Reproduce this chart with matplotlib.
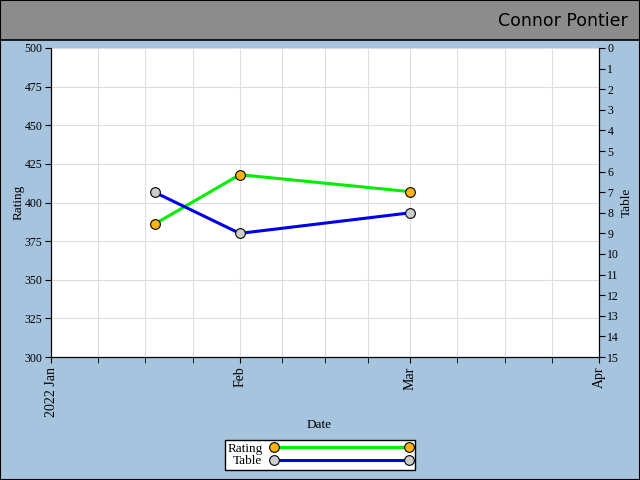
import datetime as dt
import matplotlib
matplotlib.use("Agg")
import matplotlib.pyplot as plt
import matplotlib.dates as mdates
from matplotlib.patches import Rectangle

# dados
dates = [dt.date(2022, 1, 18), dt.date(2022, 2, 1), dt.date(2022, 3, 1)]
rating = [386, 418, 407]
table = [7, 9, 8]

month_starts = [dt.date(2022, 1, 1), dt.date(2022, 2, 1), dt.date(2022, 3, 1), dt.date(2022, 4, 1)]
month_labels = ["2022 Jan", "Feb", "Mar", "Apr"]
player = "Connor Pontier"

bg = "#a6c4dd"
serif = ["Liberation Serif", "DejaVu Serif"]

fig = plt.figure(figsize=(6.4, 4.8), dpi=100, facecolor=bg)
fig.patches.append(Rectangle((0, 0), 1, 1, transform=fig.transFigure,
                             facecolor="none", edgecolor="black", lw=1.5, zorder=10))
fig.patches.append(Rectangle((0, 440 / 480), 1, 40 / 480, transform=fig.transFigure,
                             facecolor="#8c8c8c", edgecolor="black", lw=1.2, zorder=5))
fig.text(628 / 640, 459 / 480, player, ha="right", va="center", fontsize=12.5,
         family="DejaVu Sans", color="black", zorder=11)

ax = fig.add_axes([51 / 640, 123 / 480, 548 / 640, 309 / 480])
ax.set_facecolor("white")

# ticks menores: cada mes dividido em quartos
minor = []
for a, b in zip(month_starts[:-1], month_starts[1:]):
    n = (b - a).days
    for k in range(1, 4):
        minor.append(mdates.date2num(a) + n * k / 4.0)

ax.set_xlim(mdates.date2num(month_starts[0]), mdates.date2num(month_starts[-1]))
ax.set_xticks([mdates.date2num(d) for d in month_starts])
ax.set_xticklabels(month_labels, rotation=90, family=serif, fontsize=10)
ax.set_xticks(minor, minor=True)
ax.grid(True, which="both", axis="x", color="#dddddd", lw=0.8)
ax.grid(True, which="major", axis="y", color="#dddddd", lw=0.8)
ax.set_axisbelow(True)

ax.set_ylim(300, 500)
ax.set_yticks(range(300, 501, 25))
ax.tick_params(axis="y", labelsize=8.5, length=4, pad=2)
ax.tick_params(axis="x", which="both", length=4, pad=3)
for t in ax.get_yticklabels():
    t.set_family(serif)
ax.set_xlabel("Date", family=serif, fontsize=9.5)
ax.xaxis.set_label_coords(0.49, -0.2)
ax.set_ylabel("Rating", family=serif, fontsize=9.5)
ax.yaxis.set_label_coords(-0.049, 0.5)
ax.spines["top"].set_visible(False)

ax2 = ax.twinx()
ax2.set_ylim(15, 0)
ax2.set_yticks(range(0, 16))
ax2.tick_params(axis="y", labelsize=8.5, length=4, pad=2)
for t in ax2.get_yticklabels():
    t.set_family(serif)
ax2.set_ylabel("Table", family=serif, fontsize=9.5)
ax2.yaxis.set_label_coords(1.039, 0.5)
ax2.spines["top"].set_visible(False)

l1, = ax.plot(dates, rating, color="#00ee00", lw=2.2, marker="o", ms=7,
              mfc="#ffb30f", mec="black", mew=0.8, label="Rating", zorder=3)
l2, = ax2.plot(dates, table, color="#0000ee", lw=2.2, marker="o", ms=7,
               mfc="#cccccc", mec="black", mew=0.8, label="Table", zorder=3)

leg = fig.legend([l1, l2], ["Rating", "Table"], loc="center",
                 bbox_to_anchor=(320 / 640, 25 / 480), numpoints=2,
                 markerfirst=False, handlelength=10.8, fancybox=False,
                 framealpha=1, edgecolor="black", borderpad=0.2,
                 labelspacing=0.0, handletextpad=0.6, borderaxespad=0,
                 prop={"family": serif, "size": 9.5})
leg.get_frame().set_linewidth(1)

fig.savefig("out.png", dpi=100, facecolor=bg)
